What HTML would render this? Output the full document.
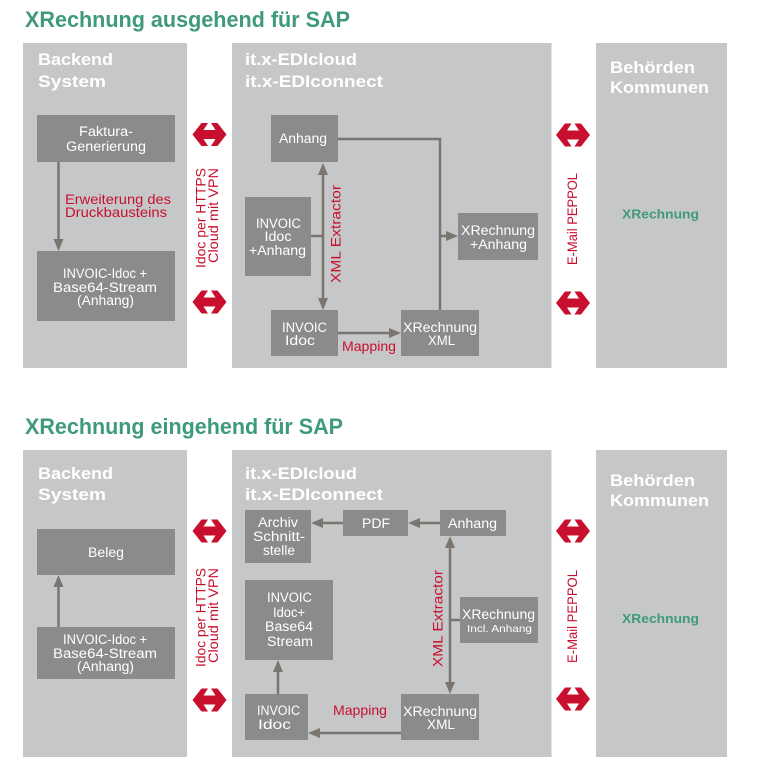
<!DOCTYPE html>
<html><head><meta charset="utf-8"><style>
html,body{margin:0;padding:0;background:#fff;width:767px;height:779px;overflow:hidden}
svg{display:block}
text{font-family:"Liberation Sans",Arial,sans-serif}
.t{font-size:22px;font-weight:bold;fill:#3f9a7c}
.h{font-size:17px;font-weight:bold;fill:#fff}
.b{font-size:13.5px;fill:#fff;text-anchor:middle}
.r{font-size:14px;fill:#c8102e}
.g{font-size:13px;font-weight:bold;fill:#3f9a7c}
.p{fill:#c6c7c9}
.x{fill:#8b8b8b}
.c{stroke:#7b7570;stroke-width:2.5;fill:none}
.a{fill:#7b7570}
.ra{fill:#c8102e}
</style></head><body>
<svg width="767" height="779" viewBox="0 0 767 779" xmlns="http://www.w3.org/2000/svg">
<defs>
<polygon id="dbl" points="-17,0 -8,-11.5 -1.5,-11.5 -6,-4.5 6,-4.5 1.5,-11.5 8,-11.5 17,0 8,11.5 1.5,11.5 6,4.5 -6,4.5 -1.5,11.5 -8,11.5"/>
</defs>

<!-- ============ TOP ============ -->
<text class="t" x="25" y="27" textLength="325" lengthAdjust="spacingAndGlyphs">XRechnung ausgehend für SAP</text>

<rect class="p" x="23" y="43" width="164" height="325"/>
<rect class="p" x="232" y="43" width="319.5" height="325"/>
<rect class="p" x="596" y="43" width="131" height="325"/>

<text class="h" x="38" y="65" textLength="75" lengthAdjust="spacingAndGlyphs">Backend</text>
<text class="h" x="38" y="87" textLength="68" lengthAdjust="spacingAndGlyphs">System</text>
<text class="h" x="245" y="65" textLength="112" lengthAdjust="spacingAndGlyphs">it.x-EDIcloud</text>
<text class="h" x="245" y="87" textLength="138" lengthAdjust="spacingAndGlyphs">it.x-EDIconnect</text>
<text class="h" x="610" y="73" textLength="85" lengthAdjust="spacingAndGlyphs">Behörden</text>
<text class="h" x="610" y="93" textLength="99" lengthAdjust="spacingAndGlyphs">Kommunen</text>

<!-- boxes -->
<rect class="x" x="37" y="115" width="138" height="47"/>
<text class="b" x="106" y="136" textLength="54" lengthAdjust="spacingAndGlyphs">Faktura-</text>
<text class="b" x="106" y="151" textLength="80" lengthAdjust="spacingAndGlyphs">Generierung</text>

<rect class="x" x="37" y="251" width="138" height="70"/>
<text class="b" x="105" y="278" textLength="84" lengthAdjust="spacingAndGlyphs">INVOIC-Idoc +</text>
<text class="b" x="105" y="292" textLength="104" lengthAdjust="spacingAndGlyphs">Base64-Stream</text>
<text class="b" x="105.5" y="305" textLength="57" lengthAdjust="spacingAndGlyphs">(Anhang)</text>

<rect class="x" x="271" y="115" width="67" height="47"/>
<text class="b" x="303" y="143" textLength="48" lengthAdjust="spacingAndGlyphs">Anhang</text>

<rect class="x" x="245" y="197" width="66" height="79"/>
<text class="b" x="278.5" y="228" textLength="45" lengthAdjust="spacingAndGlyphs">INVOIC</text>
<text class="b" x="278" y="241" textLength="27" lengthAdjust="spacingAndGlyphs">Idoc</text>
<text class="b" x="277.5" y="255" textLength="57" lengthAdjust="spacingAndGlyphs">+Anhang</text>

<rect class="x" x="458" y="213" width="80" height="47"/>
<text class="b" x="498" y="235" textLength="74" lengthAdjust="spacingAndGlyphs">XRechnung</text>
<text class="b" x="498.5" y="249" textLength="57" lengthAdjust="spacingAndGlyphs">+Anhang</text>

<rect class="x" x="271" y="310" width="67" height="46"/>
<text class="b" x="304.5" y="332" textLength="45" lengthAdjust="spacingAndGlyphs">INVOIC</text>
<text class="b" x="300" y="345" textLength="30" lengthAdjust="spacingAndGlyphs">Idoc</text>

<rect class="x" x="401" y="310" width="78" height="46"/>
<text class="b" x="440" y="332" textLength="74" lengthAdjust="spacingAndGlyphs">XRechnung</text>
<text class="b" x="441.5" y="345" textLength="27" lengthAdjust="spacingAndGlyphs">XML</text>

<!-- connectors -->
<line class="c" x1="58.5" y1="162" x2="58.5" y2="241"/>
<polygon class="a" points="53.5,239 63.5,239 58.5,251"/>

<line class="c" x1="323" y1="173" x2="323" y2="300"/>
<polygon class="a" points="318,175 328,175 323,163"/>
<polygon class="a" points="318,298 328,298 323,310"/>
<line class="c" x1="311" y1="236" x2="323" y2="236"/>

<line class="c" x1="338" y1="333" x2="391" y2="333"/>
<polygon class="a" points="389,328 389,338 401,333"/>

<polyline class="c" points="338,139 440,139 440,310"/>
<line class="c" x1="440" y1="236" x2="448" y2="236"/>
<polygon class="a" points="446,231 446,241 458,236"/>

<!-- red labels -->
<text class="r" x="65" y="204" textLength="106" lengthAdjust="spacingAndGlyphs">Erweiterung des</text>
<text class="r" x="65" y="217" textLength="102" lengthAdjust="spacingAndGlyphs">Druckbausteins</text>
<text class="r" x="342" y="351" textLength="54" lengthAdjust="spacingAndGlyphs">Mapping</text>
<text class="r" transform="translate(340.5,283) rotate(-90)" textLength="98" lengthAdjust="spacingAndGlyphs">XML Extractor</text>
<text class="r" transform="translate(205.5,268) rotate(-90)" textLength="100" lengthAdjust="spacingAndGlyphs">Idoc per HTTPS</text>
<text class="r" transform="translate(218,263) rotate(-90)" textLength="95" lengthAdjust="spacingAndGlyphs">Cloud mit VPN</text>
<text class="r" transform="translate(577,265) rotate(-90)" textLength="92" lengthAdjust="spacingAndGlyphs">E-Mail PEPPOL</text>

<use href="#dbl" class="ra" x="209.5" y="134.5"/>
<use href="#dbl" class="ra" x="209.5" y="302"/>
<use href="#dbl" class="ra" x="573" y="135"/>
<use href="#dbl" class="ra" x="573" y="303"/>

<text class="g" x="622" y="218.5" textLength="77" lengthAdjust="spacingAndGlyphs">XRechnung</text>

<!-- ============ BOTTOM ============ -->
<text class="t" x="25" y="434" textLength="318" lengthAdjust="spacingAndGlyphs">XRechnung eingehend für SAP</text>

<rect class="p" x="23" y="450" width="164" height="307"/>
<rect class="p" x="232" y="450" width="319.5" height="307"/>
<rect class="p" x="596" y="450" width="131" height="307"/>

<text class="h" x="38" y="479" textLength="75" lengthAdjust="spacingAndGlyphs">Backend</text>
<text class="h" x="38" y="500" textLength="68" lengthAdjust="spacingAndGlyphs">System</text>
<text class="h" x="245" y="479" textLength="112" lengthAdjust="spacingAndGlyphs">it.x-EDIcloud</text>
<text class="h" x="245" y="500" textLength="138" lengthAdjust="spacingAndGlyphs">it.x-EDIconnect</text>
<text class="h" x="610" y="486" textLength="85" lengthAdjust="spacingAndGlyphs">Behörden</text>
<text class="h" x="610" y="506" textLength="99" lengthAdjust="spacingAndGlyphs">Kommunen</text>

<rect class="x" x="37" y="529" width="138" height="46"/>
<text class="b" x="106" y="557" textLength="36" lengthAdjust="spacingAndGlyphs">Beleg</text>

<rect class="x" x="37" y="627" width="138" height="52"/>
<text class="b" x="105" y="644" textLength="84" lengthAdjust="spacingAndGlyphs">INVOIC-Idoc +</text>
<text class="b" x="105" y="658" textLength="104" lengthAdjust="spacingAndGlyphs">Base64-Stream</text>
<text class="b" x="105.5" y="671" textLength="57" lengthAdjust="spacingAndGlyphs">(Anhang)</text>

<rect class="x" x="245" y="510" width="66" height="53"/>
<text class="b" x="278" y="527" textLength="40" lengthAdjust="spacingAndGlyphs">Archiv</text>
<text class="b" x="279" y="541" textLength="52" lengthAdjust="spacingAndGlyphs">Schnitt-</text>
<text class="b" x="279" y="555" textLength="32" lengthAdjust="spacingAndGlyphs">stelle</text>

<rect class="x" x="343" y="510" width="65" height="26"/>
<text class="b" x="376" y="528" textLength="28" lengthAdjust="spacingAndGlyphs">PDF</text>

<rect class="x" x="440" y="510" width="66" height="26"/>
<text class="b" x="472.5" y="528" textLength="49" lengthAdjust="spacingAndGlyphs">Anhang</text>

<rect class="x" x="245" y="580" width="88" height="80"/>
<text class="b" x="289.5" y="602" textLength="45" lengthAdjust="spacingAndGlyphs">INVOIC</text>
<text class="b" x="289" y="617" textLength="32" lengthAdjust="spacingAndGlyphs">Idoc+</text>
<text class="b" x="289" y="631" textLength="48" lengthAdjust="spacingAndGlyphs">Base64</text>
<text class="b" x="290" y="646" textLength="46" lengthAdjust="spacingAndGlyphs">Stream</text>

<rect class="x" x="460" y="597" width="78" height="46"/>
<text class="b" x="498.5" y="619" textLength="73" lengthAdjust="spacingAndGlyphs">XRechnung</text>
<text class="b" x="499.5" y="632" style="font-size:10.5px" textLength="65" lengthAdjust="spacingAndGlyphs">Incl. Anhang</text>

<rect class="x" x="245" y="694" width="63" height="46"/>
<text class="b" x="278.5" y="715" textLength="43" lengthAdjust="spacingAndGlyphs">INVOIC</text>
<text class="b" x="274.5" y="729" textLength="33" lengthAdjust="spacingAndGlyphs">Idoc</text>

<rect class="x" x="401" y="694" width="78" height="46"/>
<text class="b" x="440" y="716" textLength="74" lengthAdjust="spacingAndGlyphs">XRechnung</text>
<text class="b" x="441" y="729" textLength="28" lengthAdjust="spacingAndGlyphs">XML</text>

<!-- connectors -->
<line class="c" x1="58.5" y1="627" x2="58.5" y2="586"/>
<polygon class="a" points="53.5,587 63.5,587 58.5,575"/>

<line class="c" x1="343" y1="523" x2="322" y2="523"/>
<polygon class="a" points="323,518 323,528 311,523"/>
<line class="c" x1="440" y1="523" x2="419" y2="523"/>
<polygon class="a" points="420,518 420,528 408,523"/>

<line class="c" x1="450" y1="547" x2="450" y2="684"/>
<polygon class="a" points="445,548 455,548 450,536"/>
<polygon class="a" points="445,682 455,682 450,694"/>
<line class="c" x1="450" y1="620" x2="460" y2="620"/>

<line class="c" x1="278" y1="694" x2="278" y2="671"/>
<polygon class="a" points="273,672 283,672 278,660"/>

<line class="c" x1="401" y1="733" x2="319" y2="733"/>
<polygon class="a" points="320,728 320,738 308,733"/>

<!-- red labels -->
<text class="r" x="333" y="715" textLength="54" lengthAdjust="spacingAndGlyphs">Mapping</text>
<text class="r" transform="translate(442.5,667) rotate(-90)" textLength="97" lengthAdjust="spacingAndGlyphs">XML Extractor</text>
<text class="r" transform="translate(205.5,667) rotate(-90)" textLength="99" lengthAdjust="spacingAndGlyphs">Idoc per HTTPS</text>
<text class="r" transform="translate(218,663) rotate(-90)" textLength="95" lengthAdjust="spacingAndGlyphs">Cloud mit VPN</text>
<text class="r" transform="translate(577,663) rotate(-90)" textLength="93" lengthAdjust="spacingAndGlyphs">E-Mail PEPPOL</text>

<use href="#dbl" class="ra" x="209.5" y="531"/>
<use href="#dbl" class="ra" x="209.5" y="700"/>
<use href="#dbl" class="ra" x="573" y="531"/>
<use href="#dbl" class="ra" x="573" y="699"/>

<text class="g" x="622" y="623" textLength="77" lengthAdjust="spacingAndGlyphs">XRechnung</text>
</svg>
</body></html>
